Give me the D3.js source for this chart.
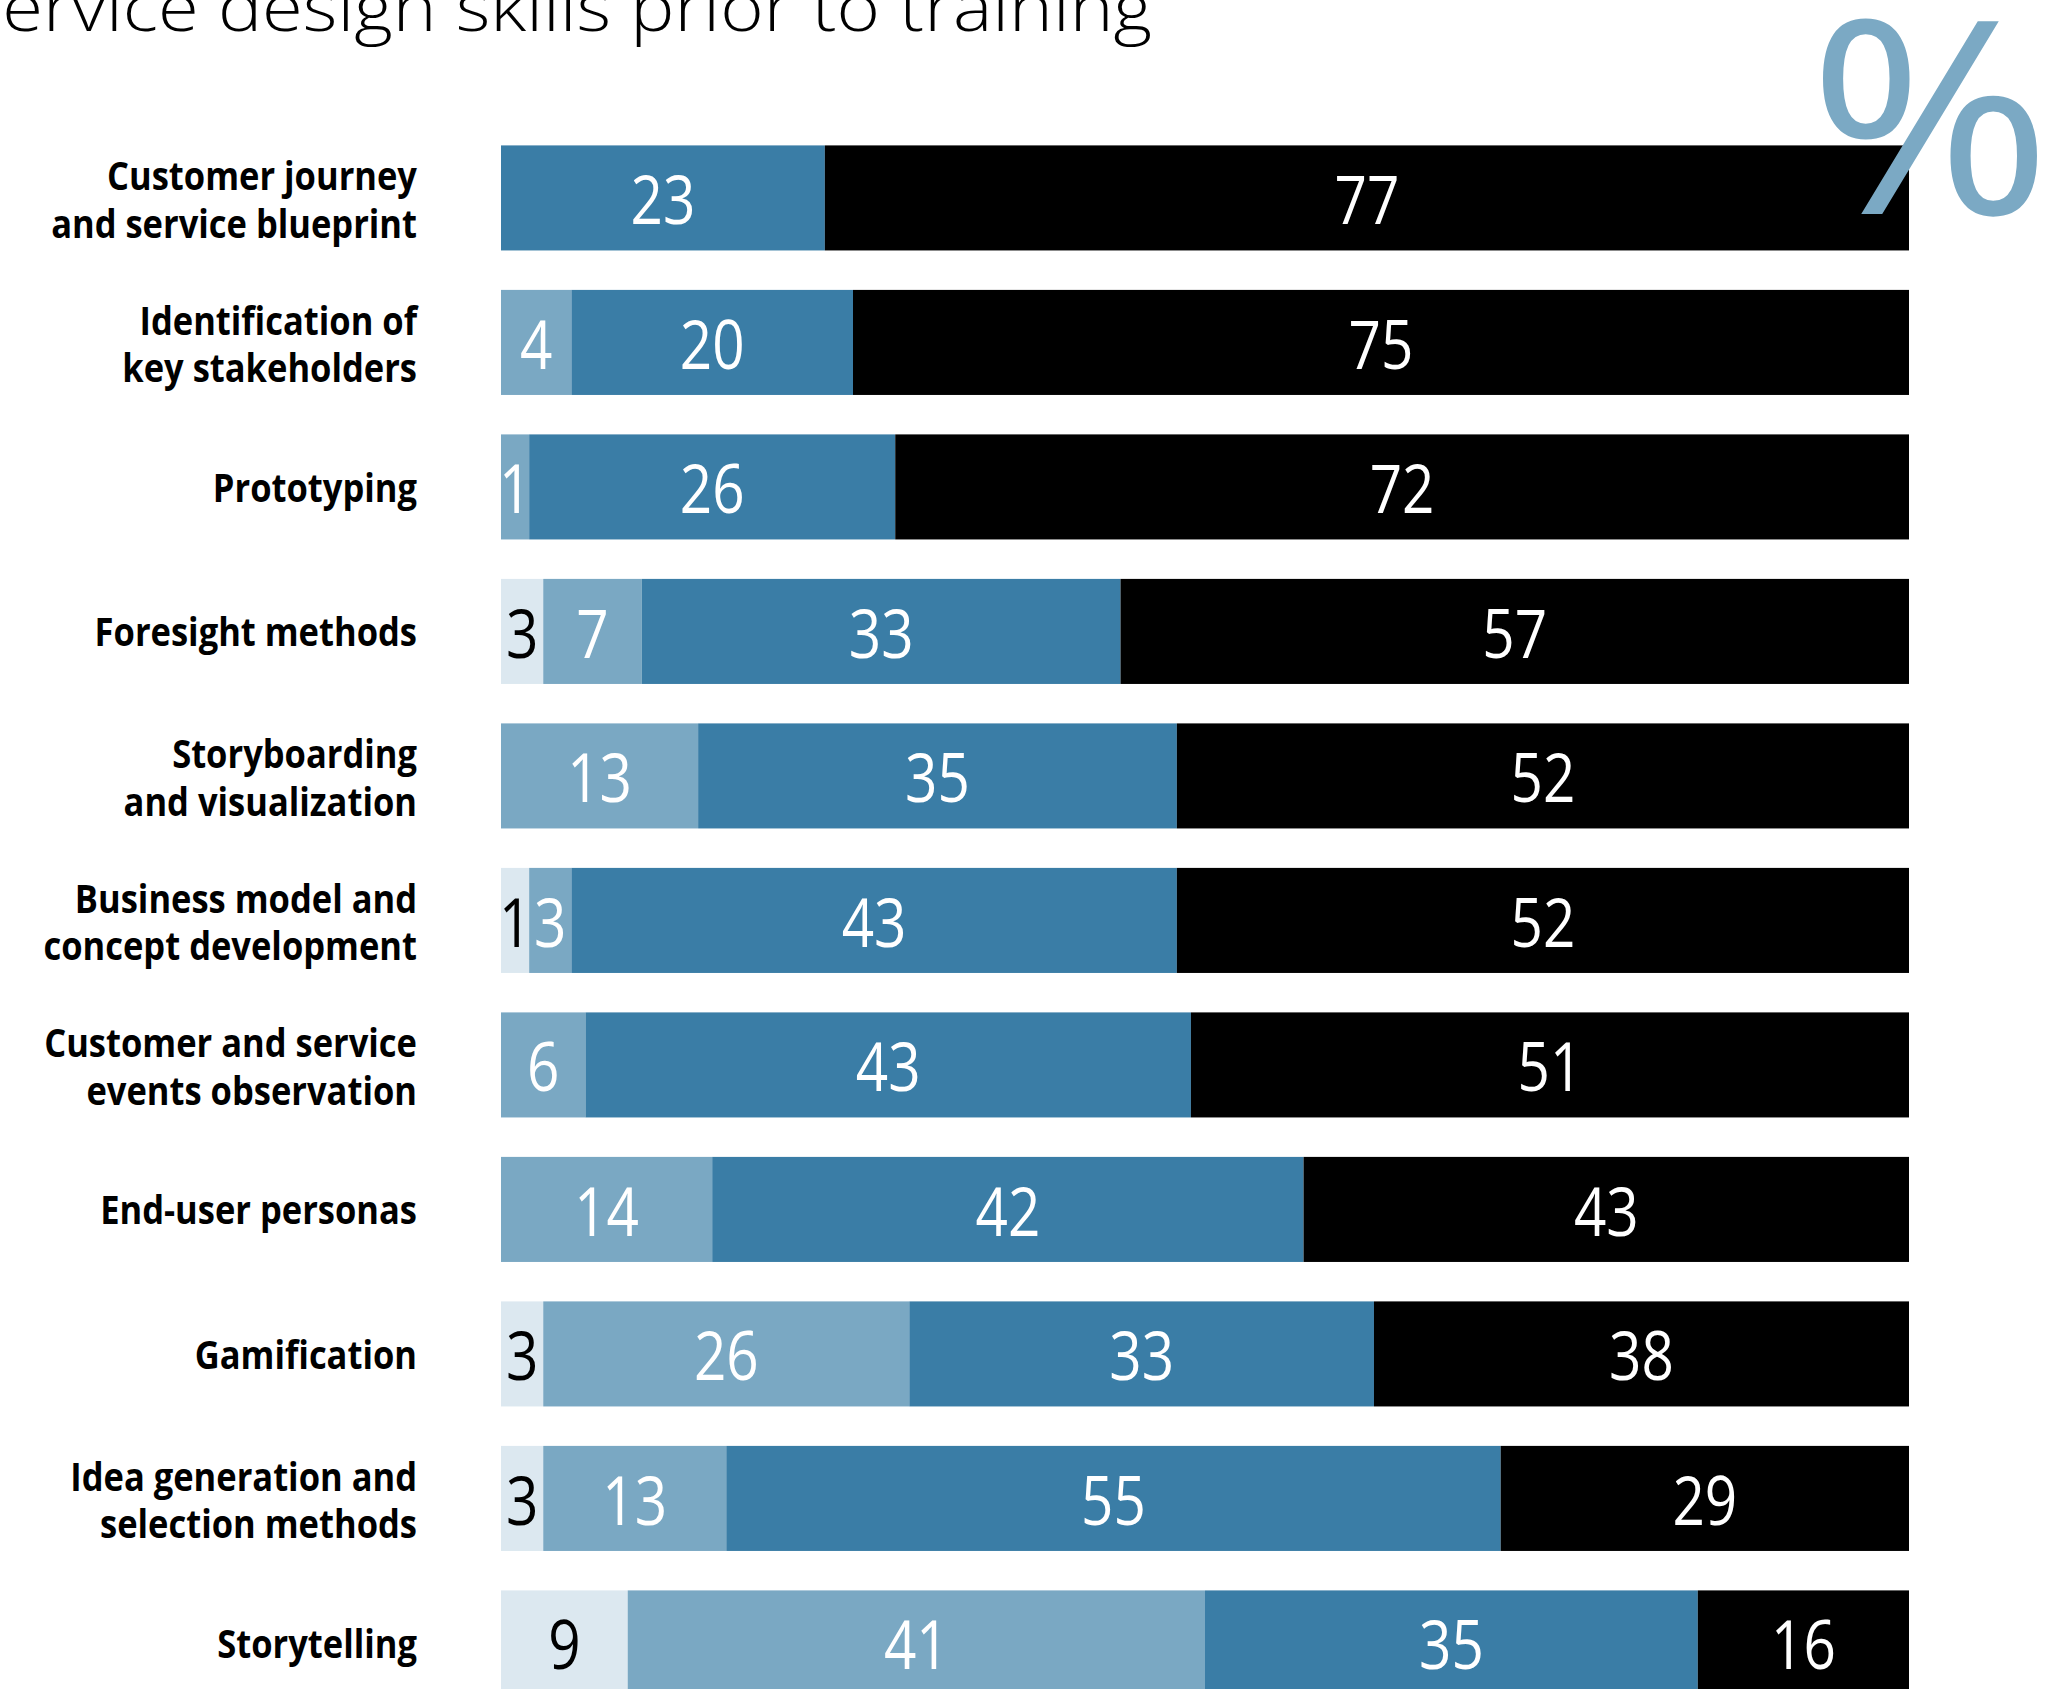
<!DOCTYPE html>
<html><head><meta charset="utf-8">
<script src="https://cdn.jsdelivr.net/npm/d3@7"></script>
<style>html,body{margin:0;padding:0;background:#fff;overflow:hidden}</style>
</head><body><svg id="chart" width="2054" height="1689"></svg>
<script>
const categories = [
  "Customer journey\nand service blueprint",
  "Identification of\nkey stakeholders",
  "Prototyping",
  "Foresight methods",
  "Storyboarding\nand visualization",
  "Business model and\nconcept development",
  "Customer and service\nevents observation",
  "End-user personas",
  "Gamification",
  "Idea generation and\nselection methods",
  "Storytelling"
];
const seriesKeys = ["lowest", "low", "mid", "high"];
// segment widths (percent)
const lowest = [0, 0, 0, 3, 0, 2, 0, 0, 3, 3, 9];
const low    = [0, 5, 2, 7, 14, 3, 6, 15, 26, 13, 41];
const mid    = [23, 20, 26, 34, 34, 43, 43, 42, 33, 55, 35];
const high   = [77, 75, 72, 56, 52, 52, 51, 43, 38, 29, 15];
// printed value labels
const lowestLabels = ["", "", "", "3", "", "1", "", "", "3", "3", "9"];
const lowLabels    = ["", "4", "1", "7", "13", "3", "6", "14", "26", "13", "41"];
const midLabels    = ["23", "20", "26", "33", "35", "43", "43", "42", "33", "55", "35"];
const highLabels   = ["77", "75", "72", "57", "52", "52", "51", "43", "38", "29", "16"];
const titleText = "Service design skills prior to training";
const unitText = "%";

const colors = {lowest: "#dce8f0", low: "#7aa8c3", mid: "#3a7da6", high: "#000000"};
const labelColors = {lowest: "#000", low: "#fff", mid: "#fff", high: "#fff"};
const labelSets = {lowest: lowestLabels, low: lowLabels, mid: midLabels, high: highLabels};

const svg = d3.select("#chart");

const rows = categories.map((c, i) => ({category: c, lowest: lowest[i], low: low[i], mid: mid[i], high: high[i]}));
const stacked = d3.stack().keys(seriesKeys)(rows);

const x = d3.scaleLinear().domain([0, 100]).range([501, 1909]).clamp(true);
const pad = 0.273, step = 144.5, y0 = 145.4;
const y = d3.scaleBand().domain(categories)
  .range([y0, y0 + step * (categories.length - pad)])
  .paddingInner(pad).paddingOuter(0);

function measure(txt, font, size, weight) {
  const t = svg.append("text").attr("font-family", font).attr("font-size", size)
    .attr("font-weight", weight).text(txt);
  const w = t.node().getComputedTextLength();
  t.remove();
  return w;
}

// Title (partly outside the picture, as in the original)
const titleFont = "'Open Sans', 'Noto Sans', sans-serif";
const titleW = measure("ervice design skills prior to training", titleFont, 66, 300);
const titleSx = 1150 / titleW;
svg.append("text")
  .attr("font-family", titleFont).attr("font-size", 66).attr("font-weight", 300)
  .attr("text-anchor", "end").attr("fill", "#000")
  .attr("transform", `translate(1152,31) scale(${titleSx},1)`)
  .text(titleText);

// Bars
const layers = svg.append("g").selectAll("g").data(stacked).join("g")
  .attr("fill", d => colors[d.key]);
layers.selectAll("rect").data(d => d.filter(s => s[1] - s[0] > 0)).join("rect")
  .attr("x", d => x(d[0]))
  .attr("y", d => y(d.data.category))
  .attr("width", d => x(d[1]) - x(d[0]))
  .attr("height", y.bandwidth());

// Value labels
const numFont = "'Open Sans', 'Noto Sans', sans-serif";
const numSx = 60 / measure("23", numFont, 68, 400) * 1.08;
stacked.forEach(layer => {
  const labs = labelSets[layer.key];
  layer.forEach((d, i) => {
    if (!labs[i]) return;
    const cx = (x(d[0]) + x(d[1])) / 2;
    const by = y(d.data.category) + 79;
    svg.append("text")
      .attr("font-family", numFont).attr("font-size", 68).attr("font-weight", 400)
      .attr("text-anchor", "middle").attr("fill", labelColors[layer.key])
      .attr("transform", `translate(${cx},${by}) scale(${numSx},1)`)
      .text(labs[i]);
  });
});

// Category labels
const catFont = "'Open Sans', 'Noto Sans', sans-serif";
const catSx = 366 / measure("and service blueprint", catFont, 40, 700);
categories.forEach(c => {
  const lines = c.split("\n");
  const cy = y(c) + y.bandwidth() / 2;
  const bases = lines.length === 1 ? [cy + 15] : [cy - 7.5, cy + 40];
  lines.forEach((ln, k) => {
    svg.append("text")
      .attr("font-family", catFont).attr("font-size", 40).attr("font-weight", 700)
      .attr("text-anchor", "end").attr("fill", "#000")
      .attr("transform", `translate(417,${bases[k]}) scale(${catSx},1)`)
      .text(ln);
  });
});

// Big percent sign
svg.append("text")
  .attr("font-family", "'Open Sans', 'Noto Sans', sans-serif")
  .attr("font-size", 270).attr("font-weight", 400)
  .attr("text-anchor", "middle").attr("fill", "#7ba9c4")
  .attr("transform", "translate(1930,214) scale(1.09,1)")
  .text(unitText);
</script>
</body></html>
